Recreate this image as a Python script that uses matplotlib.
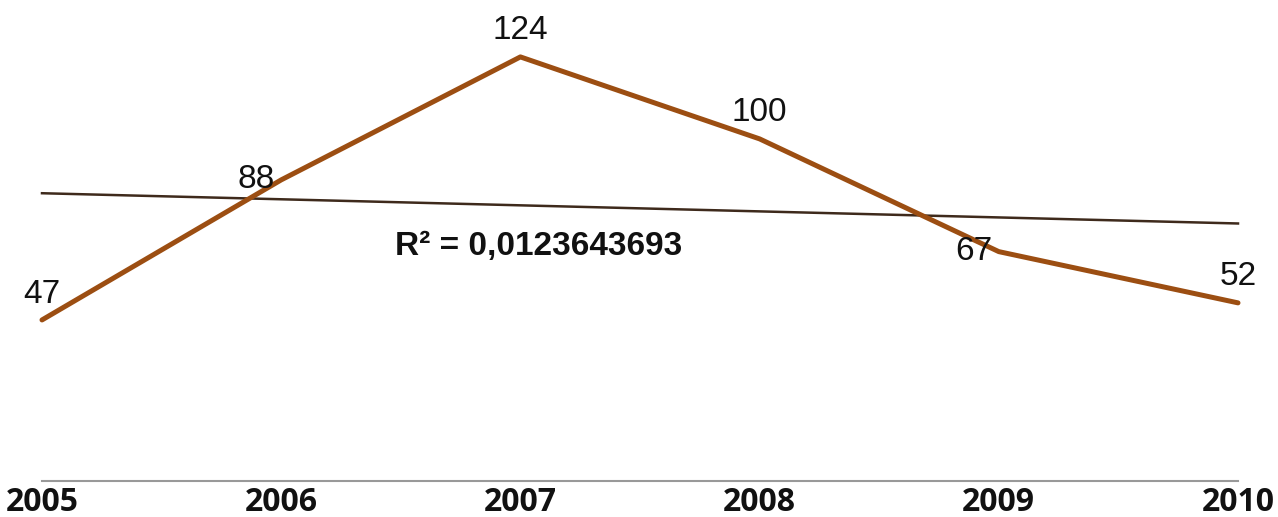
import numpy as np
import matplotlib.pyplot as plt

years = ["2005", "2006", "2007", "2008", "2009", "2010"]
values = [47, 88, 124, 100, 67, 52]
r2_text = "R² = 0,0123643693"

# label offsets in points (dx, dy) and vertical alignment
label_dx = [0, -18, 0, 0, -18, 0]
label_dy = [7.5, 0, 7.5, 7.5, 0, 7.5]
label_va = ["bottom", "center", "bottom", "bottom", "center", "bottom"]

x = np.arange(len(years))
k, b = np.polyfit(x, values, 1)
trend = k * x + b

fig = plt.figure(figsize=(12.78, 5.17), dpi=100)
ax = fig.add_axes([42 / 1278, 36.5 / 517, 1196 / 1278, 480.5 / 517])

ax.plot(x, values, color="#9C4E12", lw=3.6, solid_capstyle="round",
        solid_joinstyle="round", clip_on=False, zorder=3)
ax.plot(x, trend, color="#3E2A1C", lw=1.8, clip_on=False, zorder=2)

for i, v in enumerate(values):
    ax.annotate(str(v), (x[i], v), xytext=(label_dx[i], label_dy[i]),
                textcoords="offset points", ha="center", va=label_va[i],
                fontsize=24, family="Liberation Sans", fontstretch="condensed",
                fontweight="normal", color="#111111", zorder=4)

ax.text(1.476, 68.6, r2_text, ha="left", va="center", fontsize=24,
        fontweight="bold", family="Liberation Sans", fontstretch="normal",
        color="#111111")

ax.set_xlim(0, 5)
ax.set_ylim(0, 140.66)
ax.set_yticks([])
ax.set_xticks(x)
ax.set_xticklabels(years, fontsize=23, fontweight="bold", family="Open Sans",
                   fontstretch="normal", color="#111111")
ax.tick_params(axis="x", length=0, pad=4)
for s in ["top", "left", "right"]:
    ax.spines[s].set_visible(False)
ax.spines["bottom"].set_color("#999999")
ax.spines["bottom"].set_linewidth(1.5)

fig.savefig("out.png", dpi=100)
